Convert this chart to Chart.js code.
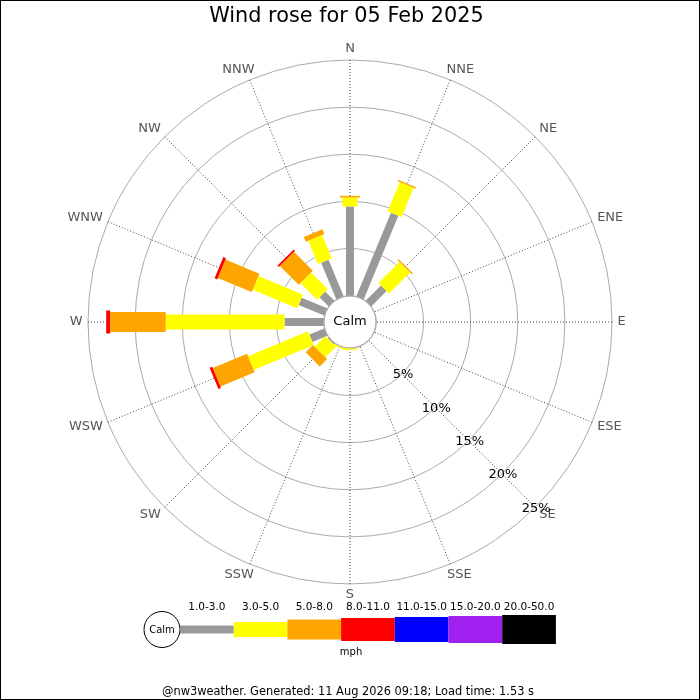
<!DOCTYPE html>
<html>
<head>
<meta charset="utf-8">
<title>Wind rose for 05 Feb 2025</title>
<script src="https://cdn.jsdelivr.net/npm/chart.js@4.4.1/dist/chart.umd.min.js"></script>
<style>
  html, body { margin: 0; padding: 0; background: #fff; }
  #frame { width: 700px; height: 700px; box-sizing: border-box; border: 1px solid #000; }
  canvas { display: block; }
</style>
</head>
<body>
<div id="frame"><canvas id="rose" width="698" height="698"></canvas></div>
<script>
const titleText = 'Wind rose for 05 Feb 2025';
const footerText = '@nw3weather. Generated: 11 Aug 2026 09:18; Load time: 1.53 s';
const directions = ['N', 'NNE', 'NE', 'ENE', 'E', 'ESE', 'SE', 'SSE', 'S', 'SSW', 'SW', 'WSW', 'W', 'WNW', 'NW', 'NNW'];
const speedBands = ['1.0-3.0', '3.0-5.0', '5.0-8.0', '8.0-11.0', '11.0-15.0', '15.0-20.0', '20.0-50.0'];
const ringTicks = [0, 5, 10, 15, 20, 25];

// % of readings per direction, one list per speed band (mph)
const speed1to3   = [9.46, 9.58, 2.26, 0, 0, 0, 0, 0, 0, 0, 0.1, 1.69, 4.15, 2.93, 1.35, 4.18];
const speed3to5   = [0.95, 3.36, 3.15, 0, 0, 0, 0, 0, 0.15, 0.15, 1.6, 6.9, 12.6, 5.12, 2.49, 2.68];
const speed5to8   = [0.18, 0.15, 0.15, 0, 0, 0, 0, 0, 0, 0, 1.1, 3.93, 5.9, 3.9, 2.83, 0.55];
const speed8to11  = [0, 0, 0, 0, 0, 0, 0, 0, 0, 0, 0, 0.3, 0.42, 0.3, 0.2, 0];
const speed11to15 = [0, 0, 0, 0, 0, 0, 0, 0, 0, 0, 0, 0, 0, 0, 0, 0];
const speed15to20 = [0, 0, 0, 0, 0, 0, 0, 0, 0, 0, 0, 0, 0, 0, 0, 0];
const speed20to50 = [0, 0, 0, 0, 0, 0, 0, 0, 0, 0, 0, 0, 0, 0, 0, 0];

const bandData = [speed1to3, speed3to5, speed5to8, speed8to11, speed11to15, speed15to20, speed20to50];
const bandColors = ['#999999', '#ffff00', '#ffa500', '#ff0000', '#0000ff', '#a020f0', '#000000'];
const bandWidths = [8, 15, 20, 23, 25, 27, 29];

const FONT = 'DejaVu Sans';
Chart.defaults.font.family = FONT;

// stacked bars along each spoke, calm circle, labels
const roseDrawing = {
    id: 'roseDrawing',
    afterDatasetsDraw(chart) {
        const r = chart.scales.r;
        const ctx = chart.ctx;
        ctx.save();

        // calm circle in the middle
        const calmR = r.getDistanceFromCenterForValue(0) - 0.5;
        ctx.beginPath();
        ctx.arc(r.xCenter, r.yCenter, calmR, 0, Math.PI * 2);
        ctx.fillStyle = '#fff';
        ctx.fill();
        ctx.strokeStyle = '#aaa';
        ctx.lineWidth = 1;
        ctx.stroke();

        ctx.lineCap = 'butt';
        directions.forEach((dir, i) => {
            let base = 0;
            chart.data.datasets.forEach((ds, k) => {
                const v = ds.data[i];
                if (!v) return;
                const a = r.getPointPositionForValue(i, base);
                const b = r.getPointPositionForValue(i, base + v);
                ctx.strokeStyle = ds.borderColor;
                ctx.lineWidth = bandWidths[k];
                ctx.beginPath();
                ctx.moveTo(a.x, a.y);
                ctx.lineTo(b.x, b.y);
                ctx.stroke();
                base += v;
            });
        });

        ctx.fillStyle = '#000';
        ctx.textAlign = 'center';
        ctx.textBaseline = 'middle';
        ctx.font = '13px "' + FONT + '"';
        ctx.fillText('Calm', r.xCenter, r.yCenter);

        // direction names round the outside
        ctx.fillStyle = '#555';
        directions.forEach((dir, i) => {
            const ang = r.getIndexAngle(i) - Math.PI / 2;
            const ux = Math.cos(ang);
            const w = ctx.measureText(dir).width;
            const px = r.getPointPosition(i, r.drawingArea + 5.5);
            const py = r.getPointPosition(i, r.drawingArea + 11);
            const sx = Math.abs(ux) < 1e-6 ? 0 : Math.sign(ux);
            ctx.fillText(dir, px.x + sx * (w / 2) * Math.min(1, 1.5 * Math.abs(ux)), py.y);
        });

        // ring percentages along the SE spoke
        ctx.fillStyle = '#000';
        const se = directions.indexOf('SE');
        ringTicks.forEach(v => {
            if (v <= 0) return;
            const p = r.getPointPositionForValue(se, v);
            ctx.fillText(v + '%', p.x + 1, p.y + 1);
        });
        ctx.restore();
    },
    afterDraw(chart) {
        const ctx = chart.ctx;
        ctx.save();
        ctx.textAlign = 'center';
        ctx.textBaseline = 'middle';
        ctx.fillStyle = '#000';

        ctx.font = '20.8px "' + FONT + '"';
        ctx.fillText(titleText, 345.5, 16);

        // legend
        const ly = 628.5;
        ctx.beginPath();
        ctx.arc(161, ly, 18, 0, Math.PI * 2);
        ctx.fillStyle = '#fff';
        ctx.fill();
        ctx.strokeStyle = '#000';
        ctx.lineWidth = 1;
        ctx.stroke();
        ctx.fillStyle = '#000';
        ctx.font = '10px "' + FONT + '"';
        ctx.fillText('Calm', 161, ly + 1);

        const step = 53.7;
        speedBands.forEach((label, k) => {
            const x0 = 179 + k * step;
            ctx.fillStyle = bandColors[k];
            ctx.fillRect(x0, ly - bandWidths[k] / 2, step, bandWidths[k]);
            ctx.fillStyle = '#000';
            ctx.font = '10.5px "' + FONT + '"';
            ctx.fillText(label, x0 + step / 2, 606.5);
        });
        ctx.font = '10px "' + FONT + '"';
        ctx.fillText('mph', 350, 651.5);

        ctx.font = '11.4px "' + FONT + '"';
        ctx.fillText(footerText, 347, 691.5);
        ctx.restore();
    }
};

new Chart(document.getElementById('rose'), {
    type: 'radar',
    data: {
        labels: directions,
        datasets: bandData.map((vals, k) => ({
            label: speedBands[k],
            data: vals,
            borderColor: bandColors[k],
            backgroundColor: bandColors[k],
            showLine: false,
            pointRadius: 0,
            pointHoverRadius: 0,
            fill: false
        }))
    },
    options: {
        responsive: false,
        animation: false,
        events: [],
        layout: { padding: { left: 87, right: 87, top: 59, bottom: 115 } },
        plugins: {
            legend: { display: false },
            title: { display: false },
            tooltip: { enabled: false }
        },
        scales: {
            r: {
                min: -2.8,
                max: 25,
                startAngle: 0,
                ticks: { display: false },
                afterBuildTicks: scale => {
                    scale.ticks = ringTicks.map(v => ({ value: v }));
                },
                grid: { circular: true, color: '#aaa', lineWidth: 1 },
                angleLines: { display: true, color: '#444', lineWidth: 1, borderDash: [1, 2] },
                pointLabels: { display: false }
            }
        }
    },
    plugins: [roseDrawing]
});
</script>
</body>
</html>
